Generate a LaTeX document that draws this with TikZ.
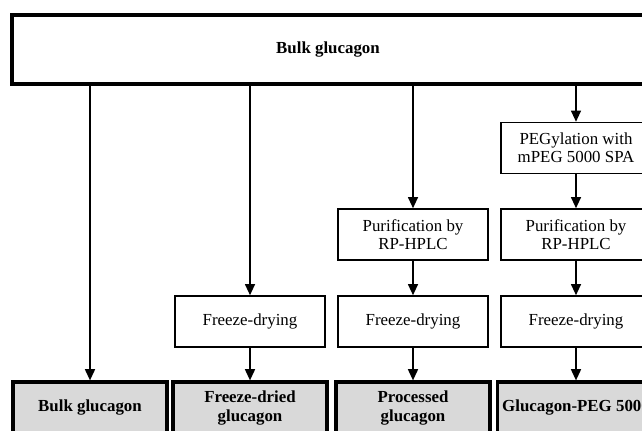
\documentclass[tikz,border=0pt]{standalone}
\usepackage{fontspec}
\setmainfont{Liberation Serif}
\usetikzlibrary{arrows.meta}
\definecolor{resultgray}{RGB}{217,217,217}
\tikzset{
    every node/.style={font=\fontsize{12}{13}\selectfont, align=center},
    sourcebox/.style={draw, line width=2.2pt, minimum width=15.8cm,
        minimum height=1.725cm, font=\fontsize{12}{13}\selectfont\bfseries},
    stepbox/.style={draw, line width=1pt, minimum width=3.75cm,
        minimum height=1.275cm},
    resultbox/.style={draw, line width=2.2pt, fill=resultgray,
        minimum width=3.85cm, minimum height=1.3cm,
        font=\fontsize{12}{13}\selectfont\bfseries},
    flow/.style={line width=1.4pt, -{Triangle[width=7pt, length=8pt]}},
}

\begin{document}
\begin{tikzpicture}
        \useasboundingbox (0, 0) rectangle (16.05, -10.775);
        \node[sourcebox] (bulk) at (8.2, -1.2375) {Bulk glucagon}; % Starting lot
        % Column 1
        \node[resultbox] (bulkout) at (2.25, -10.2) {Bulk glucagon};
        % Column 2
        \node[stepbox] (dryfd) at (6.25, -8.0375) {Freeze-drying};
        \node[resultbox] (fdout) at (6.25, -10.2) {Freeze-dried\\glucagon};
        % Column 3
        \node[stepbox] (purifyproc) at (10.325, -5.8625) {Purification by\\RP-HPLC};
        \node[stepbox] (dryproc) at (10.325, -8.0375) {Freeze-drying};
        \node[resultbox] (procout) at (10.325, -10.2) {Processed\\glucagon};
        % Column 4
        \node[stepbox] (pegylate) at (14.4, -3.7) {PEGylation with\\mPEG 5000 SPA};
        \node[stepbox] (purifypeg) at (14.4, -5.8625) {Purification by\\RP-HPLC};
        \node[stepbox] (drypeg) at (14.4, -8.0375) {Freeze-drying};
        \node[resultbox] (pegout) at (14.4, -10.2) {Glucagon-PEG 5000};
        \foreach \dest in {bulkout, dryfd, purifyproc, pegylate}{
            \draw[flow] (bulk.south -| \dest.north) -- (\dest.north); % From bulk lot
        }
        \foreach \src/\dest in {dryfd/fdout, purifyproc/dryproc, dryproc/procout,
            pegylate/purifypeg, purifypeg/drypeg, drypeg/pegout}{
            \draw[flow] (\src) -- (\dest); % Next step
        }
    \end{tikzpicture}
\end{document}
